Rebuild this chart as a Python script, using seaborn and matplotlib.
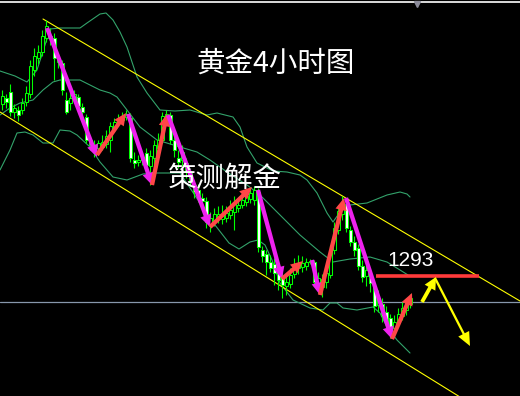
import numpy as np
import pandas as pd
import matplotlib
matplotlib.use("Agg")
import matplotlib.pyplot as plt
import seaborn as sns

# ---------------- data (gold, 4h candles) ----------------
opens = [1336, 1337.5, 1339, 1334, 1334.5, 1334.5, 1336.5, 1338.5, 1344.5, 1347.5,
         1349, 1352.5, 1353, 1352.5, 1347.5, 1346.25, 1337, 1336.25, 1337.5, 1337.75,
         1335.25, 1332.75, 1327, 1325.75, 1325, 1325.25, 1326, 1327, 1330, 1331.5,
         1332, 1332.75, 1332.5, 1322, 1321.5, 1322, 1323.75, 1320.5, 1322.5, 1325,
         1327, 1332.5, 1333.25, 1327, 1322.5, 1322, 1321.25, 1319, 1315.75, 1314.5,
         1312.5, 1311.75, 1306, 1307, 1307.75, 1307.25, 1307.5, 1308.25, 1309, 1310,
         1310.75, 1311.5, 1312.25, 1312, 1314, 1299.5, 1298.5, 1296.5, 1296, 1294,
         1292.5, 1290.5, 1291, 1293.5, 1295, 1295.25, 1295.5, 1296.5, 1296.5, 1291,
         1290.25, 1291.5, 1293.25, 1299.5, 1304.5, 1308.5, 1311, 1304.5, 1301.5, 1300,
         1295.5, 1293, 1293.5, 1290.5, 1285.75, 1286, 1284, 1282.5, 1280, 1281.5,
         1283, 1284.5, 1286]
highs = [1339.5, 1338.5, 1341, 1336, 1335.5, 1337.5, 1340.5, 1347, 1350, 1350.75,
         1354.5, 1357, 1355, 1353.75, 1348.25, 1347, 1339, 1339, 1339.5, 1338.5,
         1336.25, 1333.5, 1328, 1327, 1327, 1328.25, 1329.5, 1331.5, 1332.5, 1333.5,
         1334, 1334.5, 1333.75, 1324, 1323.25, 1324, 1325, 1324.5, 1327, 1328.75,
         1334, 1334.5, 1334, 1328.25, 1324.5, 1325.75, 1322.5, 1320, 1317, 1316,
         1313.75, 1312.75, 1309, 1310, 1310.5, 1310.75, 1310.5, 1312, 1313, 1312.5,
         1313.5, 1314.5, 1315, 1315.5, 1315, 1300.5, 1299.5, 1298.25, 1297.5, 1295.5,
         1294, 1293, 1295, 1297.5, 1298.25, 1298, 1297.5, 1297.25, 1297, 1294,
         1293.5, 1295.5, 1300.75, 1306.5, 1310.75, 1313, 1312.5, 1305.5, 1303, 1301,
         1297, 1296, 1295, 1291.5, 1289.5, 1287.5, 1285.5, 1283.5, 1283.25, 1285,
         1286.5, 1287.5, 1288.5]
lows = [1334.5, 1335, 1333, 1332.5, 1331.75, 1333.5, 1335.5, 1337.5, 1343, 1346,
        1348, 1351.5, 1350.75, 1342, 1345, 1338.25, 1333.5, 1334.5, 1337, 1334.5,
        1333, 1326.25, 1324.5, 1322.75, 1323.25, 1324.5, 1325, 1324, 1329, 1330.5,
        1331, 1332, 1321.5, 1320, 1320.5, 1320.75, 1319.5, 1315.75, 1319.5, 1323.25,
        1326.25, 1331.5, 1326, 1322.75, 1320, 1320.5, 1317.5, 1315.5, 1312.5, 1311.5,
        1310, 1305, 1304, 1305.5, 1306.25, 1306, 1306.5, 1307.25, 1304.5, 1309,
        1310, 1310.5, 1311.25, 1310.75, 1299, 1296.5, 1293.25, 1294, 1290.75, 1289.5,
        1287.5, 1288.25, 1290, 1292.5, 1293.5, 1294, 1294.5, 1296, 1290.5, 1288.75,
        1287.75, 1290, 1292.5, 1298.5, 1303.5, 1307, 1304, 1300.5, 1298, 1294.5,
        1291.5, 1290.5, 1289, 1284, 1284, 1281.5, 1280, 1277.5, 1278.5, 1280.5,
        1282, 1283.25, 1285]
closes = [1338, 1336.5, 1334, 1335, 1333.25, 1336.25, 1338.75, 1345.5, 1348, 1349,
          1353, 1355.5, 1352.5, 1347.5, 1346.5, 1339.5, 1334, 1337.5, 1338.5, 1335.5,
          1334, 1327, 1325.75, 1325, 1326.25, 1326.5, 1328, 1330.5, 1331.5, 1332.25,
          1333, 1333.5, 1322.5, 1321.25, 1322, 1322.75, 1320.75, 1323, 1325.75, 1327,
          1333, 1333.5, 1327, 1324.5, 1321.5, 1324, 1319, 1316.5, 1314, 1313,
          1311.75, 1306.5, 1307.5, 1308.5, 1308.5, 1308.5, 1308.75, 1309.5, 1311, 1310.75,
          1312, 1313, 1313.75, 1314.5, 1300.25, 1298, 1296.5, 1295, 1293.75, 1292,
          1290.75, 1291.5, 1293.25, 1295.5, 1296, 1296.25, 1296.5, 1296.75, 1291.5, 1292.5,
          1292.25, 1293.75, 1299.5, 1305, 1309.25, 1311.25, 1305, 1301.5, 1299.5, 1295.5,
          1292.75, 1294.5, 1291.25, 1285.5, 1287.5, 1283, 1281.5, 1279.5, 1281.5, 1283.5,
          1285, 1286.25, 1287.5]

# Bollinger bands (read at sample bars)
upper_pos = [-0.5, 3.25, 6.25, 8.75, 10.75, 12, 14.5, 19.5, 21.25, 24.5, 26, 27.75, 29.5,
             31.25, 33.75, 36.25, 39.5, 43.25, 47, 51.25, 53.75, 57.75, 59.5, 61.25, 63.75,
             67.75, 71.25, 74.5, 76.25, 78.75, 81.25, 82.75, 84.5, 87, 91.25, 96.25, 99.5,
             101.25, 102]
upper_val = [1344.25, 1343, 1341.5, 1344.5, 1350.75, 1354.75, 1355, 1355, 1356.25, 1358.5,
             1358.75, 1357, 1354, 1350.25, 1342.75, 1338.75, 1334.5, 1334.25, 1334.5, 1333.25,
             1333.75, 1332.75, 1330.25, 1325.25, 1321.25, 1319.25, 1319, 1318.25, 1317,
             1313.75, 1308.75, 1306.5, 1309, 1310.75, 1311.25, 1313.25, 1314, 1313.5, 1312.75]
mid_pos = [-0.5, 2, 4.5, 7.75, 10.25, 12.75, 14.5, 19.5, 22, 24.5, 27, 28.75, 31.25, 34.5,
           38.75, 44.5, 48.75, 52, 56.25, 61.25, 64.5, 69.5, 74.5, 79.5, 82.75, 87, 92,
           96.25, 99.5, 101.5]
mid_val = [1333.25, 1335, 1336.25, 1337, 1339.5, 1341.5, 1342, 1342, 1340.75, 1339.5,
           1338.75, 1337.75, 1334.5, 1330.25, 1327, 1325.25, 1324, 1322, 1319, 1315.75,
           1313.25, 1308.25, 1303.25, 1299, 1296.5, 1297.25, 1297.75, 1296.5, 1294.5, 1293.25]
lower_pos = [-0.5, 2, 3.75, 5.75, 7.75, 10.25, 12.75, 14.5, 17, 18.75, 22, 24.5, 27.75,
             31.25, 35.25, 38.75, 44.5, 47, 49.5, 53.25, 56.75, 59.25, 62, 64, 65.75, 67.5,
             69.5, 72.75, 77, 80.25, 82, 83.75, 85.25, 88.75, 92.75, 94.5, 96.25, 98.75, 102]
lower_val = [1319.5, 1324.5, 1328.75, 1329, 1328.25, 1326.25, 1326.25, 1329.5, 1329.25,
             1328.25, 1325.25, 1321.5, 1317.75, 1317, 1318.5, 1318.75, 1318.75, 1315, 1311.25,
             1305.75, 1301.25, 1299.75, 1301.5, 1302, 1300.75, 1297, 1291.25, 1287, 1285,
             1284.5, 1286.25, 1286.25, 1285, 1284.5, 1285.25, 1283.75, 1280.25, 1277, 1273.75]

# descending channel
chan_upper_pos = [10.25, 129.5]
chan_upper_val = [1357.25, 1286.75]
chan_lower_pos = [-0.5, 114.5]
chan_lower_val = [1334, 1262.75]

support_level = 1286.5
resist_level = 1293
resist_span = [93.5, 119.25]

# swing arrows
arrow_start_pos = [11.25, 23.75, 31.5, 37.5, 41.5, 52, 64, 70, 77.5, 79.5, 86, 97.5, 105, 108.25]
arrow_start_val = [1355, 1323.25, 1333.5, 1315.75, 1333.25, 1305.25, 1314.5, 1292.25, 1297,
                   1288.25, 1312.5, 1277.25, 1286.5, 1292.5]
arrow_end_pos = [23.75, 31, 37.5, 41.25, 52, 62.5, 70, 75.25, 79.5, 85.5, 97.5, 102.5, 108.5, 117]
arrow_end_val = [1322.75, 1333.75, 1315.75, 1333.5, 1305.25, 1315.25, 1292.25, 1296.75,
                 1288.25, 1312.5, 1277.25, 1288.75, 1292.75, 1275.5]
arrow_kind = ["down", "up", "down", "up", "down", "up", "down", "up", "down", "up", "down",
              "up", "fc_up", "fc_down"]

title_text = "黄金4小时图"
brand_text = "策测解金"
level_text = "1293"

# ---------------- drawing ----------------
sns.set_theme(style="dark")
plt.rcParams['font.family'] = ['Noto Sans CJK SC', 'DejaVu Sans']

fig = plt.figure(figsize=(5.2, 3.96), dpi=100, facecolor="black")
ax = fig.add_axes([0, 0, 1, 1])
ax.set_facecolor("black")
ax.set_xlim(-0.5, 129.5)
ax.set_ylim(1263, 1362)
ax.axis("off")

band_color = "#33a36b"
for pos, val in ((upper_pos, upper_val), (mid_pos, mid_val), (lower_pos, lower_val)):
    sns.lineplot(x=pos, y=val, ax=ax, color=band_color, linewidth=0.8,
                 sort=False, estimator=None, zorder=2)

ax.plot(chan_upper_pos, chan_upper_val, color="#ffff00", linewidth=0.8, zorder=2)
ax.plot(chan_lower_pos, chan_lower_val, color="#ffff00", linewidth=0.8, zorder=2)
ax.axhline(support_level, color="#8797ab", linewidth=0.9, zorder=1)
ax.axhline(1361.6, color="white", linewidth=1.2, zorder=1)
ax.plot([103.75], [1361.0], marker="v", color="#8a8a99", markersize=5, zorder=3)

df = pd.DataFrame({"open": opens, "high": highs, "low": lows, "close": closes})
df["pos"] = np.arange(len(df))
bull = df["close"] >= df["open"]
bottoms = np.minimum(df["open"], df["close"])
heights = np.maximum(np.abs(df["close"] - df["open"]), 0.3)
ax.vlines(df["pos"], df["low"], df["high"], color="#00ff00", linewidth=0.8, zorder=3)
ax.bar(df["pos"], heights, bottom=bottoms, width=0.75,
       color=np.where(bull, "black", "white"), edgecolor="#00ff00",
       linewidth=0.75, zorder=4)

ax.plot(resist_span, [resist_level, resist_level], color="#ff3a3a", linewidth=2.6,
        solid_capstyle="butt", zorder=5)

colors = {"down": "#ee22ee", "up": "#ff4747", "fc_up": "#ffff00", "fc_down": "#ffff00"}
for x0, y0, x1, y1, k in zip(arrow_start_pos, arrow_start_val, arrow_end_pos,
                             arrow_end_val, arrow_kind):
    if k == "fc_down":
        style = "simple,head_length=0.9,head_width=0.8,tail_width=0.15"
    elif k == "fc_up":
        style = "simple,head_length=0.8,head_width=0.8,tail_width=0.25"
    else:
        style = "simple,head_length=0.8,head_width=0.75,tail_width=0.28"
    ax.annotate("", xy=(x1, y1), xytext=(x0, y0),
                arrowprops=dict(arrowstyle=style, fc=colors[k], ec="none",
                                shrinkA=0, shrinkB=0, mutation_scale=11),
                zorder=6)

ax.text(68.5, 1346, title_text, color="white", fontsize=20.5, ha="center", va="center",
        zorder=7)
ax.text(55.5, 1317.3, brand_text, color="white", fontsize=20.5, ha="center", va="center",
        zorder=7)
ax.text(102.25, 1296.8, level_text, color="white", fontsize=15,
        family=["Liberation Sans", "DejaVu Sans"], ha="center", va="center", zorder=7)

fig.savefig("out.png", dpi=100, facecolor="black")
